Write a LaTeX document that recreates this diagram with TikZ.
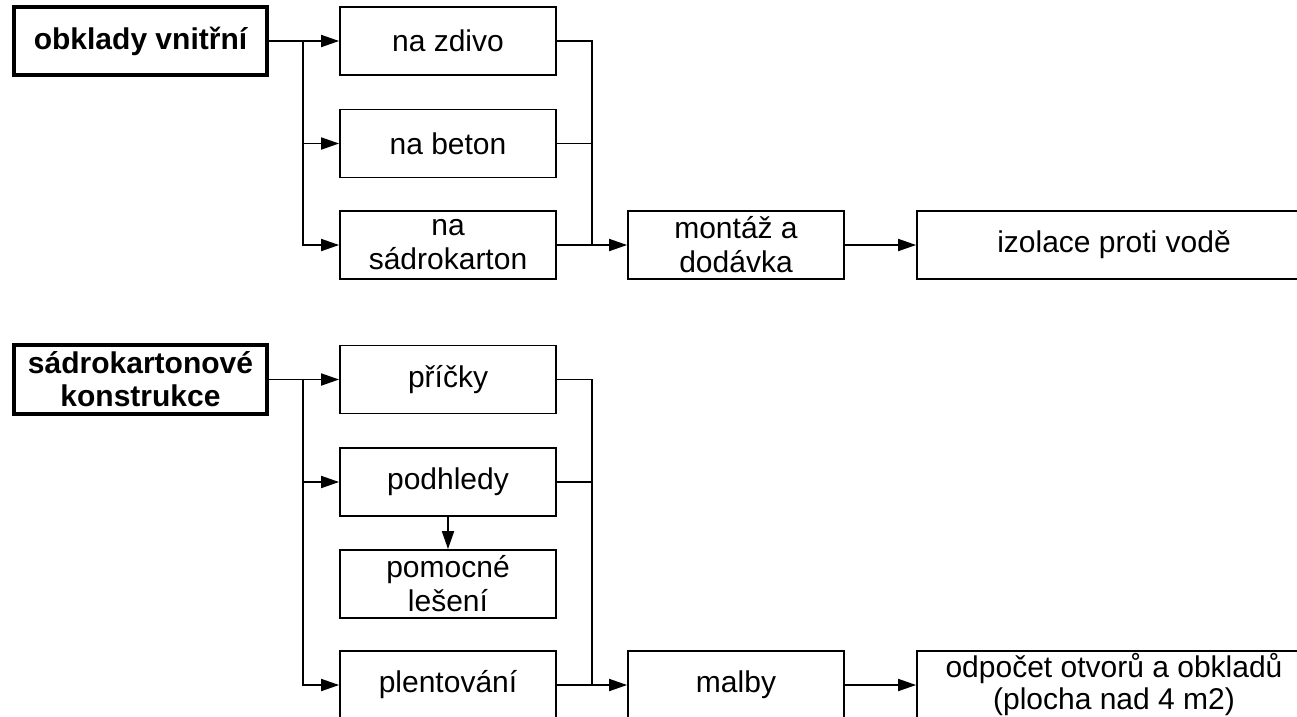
\documentclass[tikz,border=0pt]{standalone}
\usepackage{fontspec}
\setmainfont{Liberation Sans}
\usetikzlibrary{arrows.meta,calc}
\begin{document}
\begin{tikzpicture}[x=1pt,y=-1pt,
  box/.style={draw,line width=1.8pt,minimum width=216pt,minimum height=68pt,inner sep=0pt,align=center,font=\fontsize{30}{34}\selectfont},
  head/.style={draw,line width=3.6pt,minimum width=253pt,minimum height=68pt,inner sep=0pt,align=center,font=\fontsize{30}{33}\selectfont\bfseries},
  wide/.style={box,minimum width=394pt},
  line/.style={line width=1.8pt},
  conn/.style={line,-{Triangle[length=18pt,width=12pt]}}]
\useasboundingbox (0,0) rectangle (1297,716);
\clip (0,0) rectangle (1297,716);
\fill[white] (0,0) rectangle (1297,716);
% top group
\node[head] (obk) at (140.5,41) {obklady vnitřní};
\node[box] (zdivo) at (448,41) {na zdivo};
\node[box] (beton) at (448,143.5) {na beton};
\node[box] (sadr) at (448,245) {na\\sádrokarton};
\node[box] (montaz) at (736,245) {montáž a\\dodávka};
\node[wide] (izol) at (1114,245) {izolace proti vodě};
\coordinate (j1) at (303,41);
\coordinate (m1) at (592,41);
\draw[conn] (obk.east) -- (zdivo.west);
\draw[conn] (j1) |- (beton.west);
\draw[conn] (j1) |- (sadr.west);
\draw[line] (zdivo.east) -| (sadr.east -| m1);
\draw[line] (beton.east) -- (beton.east -| m1);
\draw[conn] (sadr.east) -- (montaz.west);
\draw[conn] (montaz.east) -- (izol.west);
% bottom group
\node[head,minimum height=69pt] (sdk) at (140.5,379.5) {sádrokartonové\\konstrukce};
\node[box] (pricky) at (448,379.5) {příčky};
\node[box] (podhl) at (448,482) {podhledy};
\node[box] (lesen) at (448,584) {pomocné\\lešení};
\node[box] (plent) at (448,685) {plentování};
\node[box] (malby) at (736,685) {malby};
\node[wide,font=\fontsize{30}{32}\selectfont] (odp) at (1114,685) {odpočet otvorů a obkladů\\(plocha nad 4 m2)};
\coordinate (j2) at (303,379.5);
\coordinate (m2) at (592,379.5);
\draw[conn] (sdk.east) -- (pricky.west);
\draw[conn] (j2) |- (podhl.west);
\draw[conn] (j2) |- (plent.west);
\draw[line] (pricky.east) -| (plent.east -| m2);
\draw[line] (podhl.east) -- (podhl.east -| m2);
\draw[conn] (podhl.south) -- (lesen.north);
\draw[conn] (plent.east) -- (malby.west);
\draw[conn] (malby.east) -- (odp.west);
\end{tikzpicture}
\end{document}
